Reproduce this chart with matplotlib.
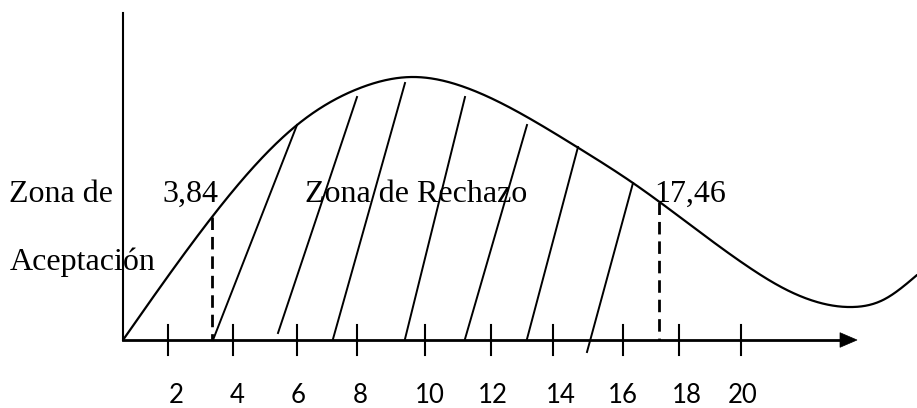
import numpy as np
import matplotlib
matplotlib.use("Agg")
import matplotlib.pyplot as plt
from matplotlib.patches import Polygon

# ---- sketch data (drawing coordinates, y grows downward) ----
curve_x = [123, 212, 297, 360, 413, 467, 527, 577, 633, 750, 783, 817, 853, 883, 917]
curve_y = [340, 217, 125, 88, 77, 88, 117, 147, 183, 268, 288, 302, 307, 300, 275]

tick_labels = ["2", "4", "6", "8", "10", "12", "14", "16", "18", "20"]
tick_x = [168, 233, 297, 357, 425, 491, 553, 623, 679, 741]
label_x = [176, 237, 298, 360, 430, 493, 561, 623, 687, 743]

critical_labels = ["3,84", "17,46"]
critical_x = [212, 659]
critical_top = [217, 202]

hatch_x0 = [213, 278, 333, 405, 465, 527, 587]
hatch_y0 = [340, 333, 339, 339, 339, 339, 352]
hatch_x1 = [297, 357, 405, 465, 527, 578, 633]
hatch_y1 = [125, 97, 83, 97, 125, 147, 183]

origin_x, origin_y = 123, 340
axis_top = 13
arrow_end = 857


def natural_spline(xk, yk, xs):
    xk = np.asarray(xk, float)
    yk = np.asarray(yk, float)
    n = len(xk)
    h = np.diff(xk)
    A = np.zeros((n, n))
    b = np.zeros(n)
    A[0, 0] = 1.0
    A[-1, -1] = 1.0
    for i in range(1, n - 1):
        A[i, i - 1] = h[i - 1]
        A[i, i] = 2 * (h[i - 1] + h[i])
        A[i, i + 1] = h[i]
        b[i] = 3 * ((yk[i + 1] - yk[i]) / h[i] - (yk[i] - yk[i - 1]) / h[i - 1])
    c = np.linalg.solve(A, b)
    idx = np.clip(np.searchsorted(xk, xs) - 1, 0, n - 2)
    dx = xs - xk[idx]
    bb = (yk[idx + 1] - yk[idx]) / h[idx] - h[idx] * (2 * c[idx] + c[idx + 1]) / 3
    dd = (c[idx + 1] - c[idx]) / (3 * h[idx])
    return yk[idx] + bb * dx + c[idx] * dx ** 2 + dd * dx ** 3


fig = plt.figure(figsize=(9.17, 4.08), dpi=100)
ax = fig.add_axes([0, 0, 1, 1])
ax.set_xlim(0, 917)
ax.set_ylim(408, 0)
ax.axis("off")

xs = np.linspace(curve_x[0], curve_x[-1], 800)
ax.plot(xs, natural_spline(curve_x, curve_y, xs), color="black", lw=1.6, solid_capstyle="round")

# axes
ax.plot([origin_x, origin_x], [axis_top, origin_y], color="black", lw=1.5)
ax.plot([origin_x, arrow_end - 15], [origin_y, origin_y], color="black", lw=2.0)
ax.add_patch(Polygon([(arrow_end - 17, origin_y - 7.3), (arrow_end, origin_y),
                      (arrow_end - 17, origin_y + 7.3)], closed=True, fc="black", ec="black", lw=0.5))

# ticks and labels
for tx, lx, lab in zip(tick_x, label_x, tick_labels):
    ax.plot([tx, tx], [325, 355], color="black", lw=1.5)
    ax.text(lx, 403, lab, ha="center", va="baseline", fontsize=18.5, family="Lato")

# hatch lines
for x0, y0, x1, y1 in zip(hatch_x0, hatch_y0, hatch_x1, hatch_y1):
    ax.plot([x0, x1], [y0, y1], color="black", lw=1.4)

# critical dashed lines
for cx, ct in zip(critical_x, critical_top):
    ax.plot([cx, cx], [ct, origin_y], color="black", lw=2.0, dashes=(4.5, 2.5))

serif = "Liberation Serif"
fs = 23
ax.text(9, 202, "Zona de", ha="left", va="baseline", fontsize=fs, family=serif)
ax.text(10, 270, "Aceptación", ha="left", va="baseline", fontsize=fs, family=serif)
ax.text(162, 202, critical_labels[0], ha="left", va="baseline", fontsize=fs, family=serif)
ax.text(305, 202, "Zona de Rechazo", ha="left", va="baseline", fontsize=fs, family=serif)
ax.text(654, 202, critical_labels[1], ha="left", va="baseline", fontsize=fs, family=serif)

fig.savefig("out.png", dpi=100, facecolor="white")
